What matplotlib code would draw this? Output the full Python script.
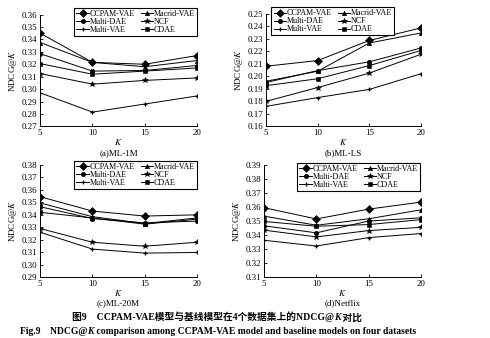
import matplotlib
matplotlib.use("Agg")
import matplotlib.pyplot as plt
from matplotlib.offsetbox import TextArea, HPacker, AnchoredOffsetbox

plt.rcParams['font.family'] = ['Liberation Serif', 'Noto Sans CJK SC']
plt.rcParams['mathtext.fontset'] = 'stix'

K = [5, 10, 15, 20]
models = ["CCPAM-VAE", "Multi-DAE", "Multi-VAE", "Macrid-VAE", "NCF", "CDAE"]
markers = {"CCPAM-VAE": ("D", 4.0), "Multi-DAE": ("o", 3.2), "Multi-VAE": ("+", 3.5),
           "Macrid-VAE": ("^", 3.2), "NCF": ("*", 4.0), "CDAE": ("s", 3.0)}

ml1m = {
    "CCPAM-VAE": [0.345, 0.3215, 0.320, 0.327],
    "Macrid-VAE": [0.3375, 0.3215, 0.318, 0.323],
    "Multi-DAE": [0.3285, 0.3145, 0.315, 0.319],
    "CDAE": [0.3205, 0.312, 0.3145, 0.317],
    "NCF": [0.3125, 0.304, 0.307, 0.309],
    "Multi-VAE": [0.297, 0.2815, 0.288, 0.2945],
}
mlls = {
    "CCPAM-VAE": [0.208, 0.2125, 0.2285, 0.2385],
    "Macrid-VAE": [0.196, 0.204, 0.2265, 0.2345],
    "Multi-DAE": [0.195, 0.2045, 0.2115, 0.2225],
    "CDAE": [0.1925, 0.198, 0.2085, 0.2205],
    "NCF": [0.180, 0.191, 0.2025, 0.2175],
    "Multi-VAE": [0.176, 0.183, 0.1895, 0.202],
}
ml20m = {
    "CCPAM-VAE": [0.3545, 0.343, 0.339, 0.340],
    "Macrid-VAE": [0.3495, 0.3385, 0.333, 0.3375],
    "Multi-DAE": [0.3465, 0.337, 0.3335, 0.335],
    "CDAE": [0.342, 0.3375, 0.3325, 0.3365],
    "NCF": [0.329, 0.318, 0.3148, 0.318],
    "Multi-VAE": [0.326, 0.3125, 0.3093, 0.3098],
}
netflix = {
    "CCPAM-VAE": [0.3595, 0.3515, 0.3585, 0.3635],
    "Macrid-VAE": [0.3535, 0.347, 0.3516, 0.358],
    "CDAE": [0.3497, 0.3463, 0.3475, 0.351],
    "Multi-DAE": [0.3466, 0.3416, 0.350, 0.3523],
    "NCF": [0.3435, 0.3387, 0.3432, 0.3455],
    "Multi-VAE": [0.3363, 0.3322, 0.3382, 0.3411],
}

yticks_a = [0.27, 0.28, 0.29, 0.30, 0.31, 0.32, 0.33, 0.34, 0.35, 0.36]
yticks_b = [0.16, 0.17, 0.18, 0.19, 0.20, 0.21, 0.22, 0.23, 0.24, 0.25]
yticks_c = [0.29, 0.30, 0.31, 0.32, 0.33, 0.34, 0.35, 0.36, 0.37, 0.38]
yticks_d = [0.31, 0.32, 0.33, 0.34, 0.35, 0.36, 0.37, 0.38, 0.39]

panels = [
    (ml1m, yticks_a, "(a)ML-1M", [0.082, 0.626, 0.320, 0.331], 'upper right', (1.0, 1.062)),
    (mlls, yticks_b, "(b)ML-LS", [0.543, 0.626, 0.316, 0.334], 'upper left', (0.035, 1.055)),
    (ml20m, yticks_c, "(c)ML-20M", [0.082, 0.180, 0.320, 0.332], 'upper right', (1.0, 1.036)),
    (netflix, yticks_d, "(d)Netflix", [0.539, 0.180, 0.320, 0.332], 'upper right', (0.994, 1.018)),
]

fig = plt.figure(figsize=(4.9, 3.38), dpi=100)
for data, yt, title, pos, lloc, lanchor in panels:
    ax = fig.add_axes(pos)
    for m in models:
        mk, ms = markers[m]
        ax.plot(K, data[m], color='black', lw=0.7, marker=mk, ms=ms,
                mew=0.9 if mk == '+' else 0.4, label=m)
    ax.set_xlim(5, 20)
    ax.set_ylim(yt[0], yt[-1])
    ax.set_xticks(K)
    ax.set_yticks(yt)
    ax.set_yticklabels([f"{v:.2f}" for v in yt])
    ax.spines['top'].set_visible(False)
    ax.spines['right'].set_visible(False)
    ax.spines['left'].set_linewidth(0.7)
    ax.spines['bottom'].set_linewidth(0.7)
    ax.tick_params(labelsize=6.4, direction='in', length=2.5, width=0.6, pad=2)
    ax.set_ylabel("NDCG@$K$", fontsize=6.5, labelpad=2)
    h = pos[3] * 338
    ax.text(0.5, -15.5 / h, "$K$", transform=ax.transAxes, ha='center', va='center', fontsize=6.5)
    ax.text(0.5, -26.5 / h, title, transform=ax.transAxes, ha='center', va='center', fontsize=6.5)
    leg = ax.legend(ncol=2, loc=lloc, bbox_to_anchor=lanchor, fontsize=5.8,
                    frameon=True, fancybox=False, edgecolor='black', framealpha=1,
                    handlelength=1.5, handletextpad=0.15, columnspacing=0.7,
                    labelspacing=0.0, borderpad=0.25, borderaxespad=0)
    leg.get_frame().set_linewidth(0.8)

bold = dict(fontweight='bold', fontsize=7.0, family=['Liberation Serif', 'Noto Sans CJK SC'])
bold_it = dict(fontweight='bold', fontstyle='italic', fontsize=7.0, family=['Liberation Serif'])
cn = HPacker(children=[TextArea("图9    CCPAM-VAE模型与基线模型在4个数据集上的NDCG@", textprops=bold),
                       TextArea("K", textprops=bold_it),
                       TextArea(" 对比", textprops=bold)], align='baseline', pad=0, sep=0)
ab = AnchoredOffsetbox(loc='center', child=cn, bbox_to_anchor=(0.443, 1 - 317 / 338),
                       bbox_transform=fig.transFigure, frameon=False, pad=0, borderpad=0)
fig.add_artist(ab)

bold2 = dict(fontweight='bold', fontsize=6.9, family=['Liberation Serif'])
bold2_it = dict(fontweight='bold', fontstyle='italic', fontsize=6.9, family=['Liberation Serif'])
en = HPacker(children=[TextArea("Fig.9    NDCG@", textprops=bold2),
                       TextArea("K", textprops=bold2_it),
                       TextArea(" comparison among CCPAM-VAE model and baseline models on four datasets", textprops=bold2)],
             align='baseline', pad=0, sep=0)
ab2 = AnchoredOffsetbox(loc='center', child=en, bbox_to_anchor=(0.445, 1 - 331 / 338),
                        bbox_transform=fig.transFigure, frameon=False, pad=0, borderpad=0)
fig.add_artist(ab2)

fig.savefig("out.png", dpi=100)
